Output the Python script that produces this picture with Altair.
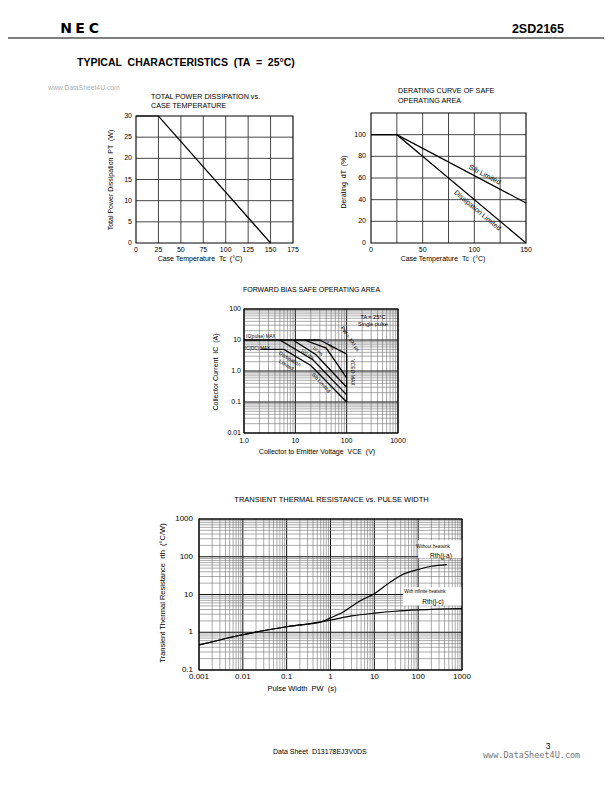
import altair as alt
import pandas as pd

FONT = "Liberation Sans"
W, H = 596, 776
M = 8  # page margin

# ---------------- data ----------------
# Total power dissipation vs. case temperature
PD_TC = [0, 25, 150]
PD_PT = [30, 30, 0]
PD_X_TICKS = [0, 25, 50, 75, 100, 125, 150, 175]
PD_Y_TICKS = [0, 5, 10, 15, 20, 25, 30]

# Derating curve of safe operating area
DR_TC = [0, 25, 150]
DR_SB_LIMITED = [100, 100, 37]
DR_DISS_LIMITED = [100, 100, 0]
DR_X_TICKS = [0, 50, 100, 150]
DR_X_GRID = [25, 50, 75, 100, 125]
DR_Y_TICKS = [0, 20, 40, 60, 80, 100]

# Forward bias safe operating area
SOA_PULSE_V = [1, 30]
SOA_PULSE_I = [10, 10]
SOA_300US_V = [30, 100]
SOA_300US_I = [10, 3.5]
SOA_1MS_V = [15, 40, 100]
SOA_1MS_I = [10, 5.5, 0.6]
SOA_10MS_V = [9, 25, 100]
SOA_10MS_I = [10, 3.4, 0.3]
SOA_100MS_V = [5, 22, 100]
SOA_100MS_I = [10, 2.3, 0.17]
SOA_DC_V = [2.1, 6, 20, 100]
SOA_DC_I = [5, 5, 1.5, 0.1]
SOA_VCEO_V = [100, 100]
SOA_VCEO_I = [3.5, 0.1]
SOA_X_TICKS = [1, 10, 100, 1000]
SOA_X_LABELS = ["1.0", "10", "100", "1000"]
SOA_Y_TICKS = [0.01, 0.1, 1, 10, 100]
SOA_Y_LABELS = ["0.01", "0.1", "1.0", "10", "100"]

# Transient thermal resistance vs. pulse width
TH_PW_JC = [0.001, 0.01, 0.1, 0.3, 1, 3, 10, 30, 100, 1000]
TH_R_JC = [0.46, 0.86, 1.4, 1.65, 2.1, 2.7, 3.2, 3.6, 3.9, 4.2]
TH_PW_JA = [0.001, 0.01, 0.1, 0.3, 0.6, 1, 2, 3, 5, 10, 20, 40, 100, 200, 450]
TH_R_JA = [0.46, 0.86, 1.4, 1.65, 1.85, 2.4, 3.5, 4.8, 7, 10.5, 19, 32, 46, 56, 62]
TH_X_TICKS = [0.001, 0.01, 0.1, 1, 10, 100, 1000]
TH_X_LABELS = ["0.001", "0.01", "0.1", "1", "10", "100", "1000"]
TH_Y_TICKS = [0.1, 1, 10, 100, 1000]
TH_Y_LABELS = ["0.1", "1", "10", "100", "1000"]

DUMMY = pd.DataFrame({"d": [0]})


def P(v):
    return v - M


def nb(s):
    return s.replace("  ", " \u00a0")


def lin_scale(dom, rng):
    return alt.Scale(type="linear", domain=dom, range=rng, nice=False, zero=False)


def log_scale(dom, rng):
    return alt.Scale(type="log", domain=dom, range=rng, nice=False)


def log_grid(lo, hi):
    vals, major = [], []
    for e in range(lo, hi):
        for k in range(1, 10):
            vals.append(round(k * 10.0 ** e, 6))
            major.append(k == 1)
    vals.append(round(10.0 ** hi, 6))
    major.append(True)
    return vals, major


def grid_layers(xsc, ysc, xdom, ydom, vvals, vmaj, hvals, hmaj, cmaj, cmin, wmaj, wmin):
    vdf = pd.DataFrame({"gx": vvals, "m": vmaj})
    vdf["gy0"] = ydom[0]
    vdf["gy1"] = ydom[1]
    vdf["c"] = [cmaj if m else cmin for m in vmaj]
    vdf["w"] = [wmaj if m else wmin for m in vmaj]
    hdf = pd.DataFrame({"gy": hvals, "m": hmaj})
    hdf["gx0"] = xdom[0]
    hdf["gx1"] = xdom[1]
    hdf["c"] = [cmaj if m else cmin for m in hmaj]
    hdf["w"] = [wmaj if m else wmin for m in hmaj]
    v = alt.Chart(vdf).mark_rule().encode(
        x=alt.X("gx:Q", scale=xsc, axis=None),
        y=alt.Y("gy0:Q", scale=ysc, axis=None), y2="gy1:Q",
        color=alt.Color("c:N", scale=None), strokeWidth=alt.StrokeWidth("w:Q", scale=None))
    h = alt.Chart(hdf).mark_rule().encode(
        y=alt.Y("gy:Q", scale=ysc, axis=None),
        x=alt.X("gx0:Q", scale=xsc, axis=None), x2="gx1:Q",
        color=alt.Color("c:N", scale=None), strokeWidth=alt.StrokeWidth("w:Q", scale=None))
    return [v, h]


def frame_layer(xsc, ysc, xdom, ydom):
    df = pd.DataFrame({"x0": [xdom[0]], "x1": [xdom[1]], "y0": [ydom[0]], "y1": [ydom[1]]})
    return alt.Chart(df).mark_rect(filled=False, stroke="black", strokeWidth=1.1).encode(
        x=alt.X("x0:Q", scale=xsc, axis=None), x2="x1:Q",
        y=alt.Y("y0:Q", scale=ysc, axis=None), y2="y1:Q")


def tick_labels(xsc, ysc, xdom, ydom, xt, xl, yt, yl, size, xpad, ypad):
    xdf = pd.DataFrame({"v": xt, "t": xl})
    xdf["b"] = ydom[0]
    ydf = pd.DataFrame({"v": yt, "t": yl})
    ydf["b"] = xdom[0]
    xl_ = alt.Chart(xdf).mark_text(font=FONT, fontSize=size, baseline="top", align="center",
                                   dy=xpad, color="black").encode(
        x=alt.X("v:Q", scale=xsc, axis=None), y=alt.Y("b:Q", scale=ysc, axis=None), text="t:N")
    yl_ = alt.Chart(ydf).mark_text(font=FONT, fontSize=size, baseline="middle", align="right",
                                   dx=-ypad, color="black").encode(
        y=alt.Y("v:Q", scale=ysc, axis=None), x=alt.X("b:Q", scale=xsc, axis=None), text="t:N")
    return [xl_, yl_]


def series_df(pairs):
    rows = []
    for name, xs, ys in pairs:
        for i, (a, b) in enumerate(zip(xs, ys)):
            rows.append({"s": name, "i": i, "x": a, "y": b})
    return pd.DataFrame(rows)


def line_layer(df, xsc, ysc, interp="linear", w=1.2):
    return alt.Chart(df).mark_line(color="black", strokeWidth=w, interpolate=interp).encode(
        x=alt.X("x:Q", scale=xsc, axis=None), y=alt.Y("y:Q", scale=ysc, axis=None),
        detail="s:N", order="i:Q")


def text_layer(df, xsc, ysc, align="center"):
    return alt.Chart(df).mark_text(font=FONT, align=align, baseline="middle", color="black",
                                   lineBreak="\n").encode(
        x=alt.X("x:Q", scale=xsc, axis=None), y=alt.Y("y:Q", scale=ysc, axis=None),
        text="t:N", angle=alt.Angle("a:Q", scale=None), size=alt.Size("s:Q", scale=None))


def txt(s, px, py, size, weight="normal", align="left", color="black", font=FONT, angle=0):
    return alt.Chart(DUMMY).mark_text(text=nb(s), font=font, fontSize=size, fontWeight=weight,
                                      align=align, baseline="middle", color=color, angle=angle).encode(
        x=alt.value(P(px)), y=alt.value(P(py)))


# ---------------- panel 1 ----------------
x1d, y1d = [0, 175], [0, 30]
xs1 = lin_scale(x1d, [P(136), P(293)])
ys1 = lin_scale(y1d, [P(243), P(116)])
p1 = grid_layers(xs1, ys1, x1d, y1d, PD_X_TICKS[1:-1], [True] * 6, PD_Y_TICKS[1:-1], [True] * 5,
                 "#333333", "#333333", 0.9, 0.9)
p1 += [frame_layer(xs1, ys1, x1d, y1d),
       line_layer(series_df([("pt", PD_TC, PD_PT)]), xs1, ys1)]
p1 += tick_labels(xs1, ys1, x1d, y1d, PD_X_TICKS, [str(v) for v in PD_X_TICKS],
                  PD_Y_TICKS, [str(v) for v in PD_Y_TICKS], 7, 3, 4)
panel1 = alt.layer(*p1)

# ---------------- panel 2 ----------------
x2d, y2d = [0, 150], [0, 120]
xs2 = lin_scale(x2d, [P(371), P(526)])
ys2 = lin_scale(y2d, [P(243), P(113)])
p2 = grid_layers(xs2, ys2, x2d, y2d, DR_X_GRID, [True] * 5, DR_Y_TICKS[1:], [True] * 5,
                 "#333333", "#333333", 0.9, 0.9)
dr_lab = pd.DataFrame({"x": [110, 103], "y": [63, 30], "t": ["S/b Limited", "Dissipation Limited"],
                       "a": [28, 40], "s": [7, 7]})
p2 += [frame_layer(xs2, ys2, x2d, y2d),
       line_layer(series_df([("sb", DR_TC, DR_SB_LIMITED), ("diss", DR_TC, DR_DISS_LIMITED)]), xs2, ys2),
       text_layer(dr_lab, xs2, ys2)]
p2 += tick_labels(xs2, ys2, x2d, y2d, DR_X_TICKS, [str(v) for v in DR_X_TICKS],
                  DR_Y_TICKS, [str(v) for v in DR_Y_TICKS], 7, 3, 5)
panel2 = alt.layer(*p2)

# ---------------- panel 3 (SOA) ----------------
x3d, y3d = [1, 1000], [0.01, 100]
xs3 = log_scale(x3d, [P(244), P(398)])
ys3 = log_scale(y3d, [P(433), P(309)])
gv3, gmv3 = log_grid(0, 3)
gh3, gmh3 = log_grid(-2, 2)
p3 = grid_layers(xs3, ys3, x3d, y3d, gv3, gmv3, gh3, gmh3, "#111111", "#666666", 1.0, 0.55)
soa = series_df([("pulse", SOA_PULSE_V, SOA_PULSE_I), ("300us", SOA_300US_V, SOA_300US_I),
                 ("1ms", SOA_1MS_V, SOA_1MS_I), ("10ms", SOA_10MS_V, SOA_10MS_I),
                 ("100ms", SOA_100MS_V, SOA_100MS_I), ("dc", SOA_DC_V, SOA_DC_I),
                 ("vceo", SOA_VCEO_V, SOA_VCEO_I)])
soa_lab_c = pd.DataFrame({
    "x": [325, 325, 7.9, 32, 135, 118, 47, 27, 17],
    "y": [56, 32, 2.5, 0.43, 0.9, 11, 6.5, 4.3, 3.5],
    "t": ["TA = 25°C", "Single pulse", "Dissipation\nLimited", "S/b Limited", "VCEO MAX",
          "PW = 300 μs", "1 ms", "10 ms", "100 ms"],
    "a": [0, 0, 31, 48, 90, 55, 45, 40, 35],
    "s": [5.5, 5.5, 5, 5, 5, 5, 4.5, 4.5, 4.5]})
soa_lab_l = pd.DataFrame({"x": [1.1, 1.05], "y": [12.5, 5.2], "t": ["IC(pulse) MAX", "IC(DC) MAX"],
                          "a": [0, 0], "s": [4.5, 4.5]})
p3 += [frame_layer(xs3, ys3, x3d, y3d), line_layer(soa, xs3, ys3, w=1.3),
       text_layer(soa_lab_c, xs3, ys3), text_layer(soa_lab_l, xs3, ys3, align="left")]
p3 += tick_labels(xs3, ys3, x3d, y3d, SOA_X_TICKS, SOA_X_LABELS, SOA_Y_TICKS, SOA_Y_LABELS, 7, 4, 3)
panel3 = alt.layer(*p3)

# ---------------- panel 4 (thermal) ----------------
x4d, y4d = [0.001, 1000], [0.1, 1000]
xs4 = log_scale(x4d, [P(199), P(462)])
ys4 = log_scale(y4d, [P(670), P(519)])
gv4, gmv4 = log_grid(-3, 3)
gh4, gmh4 = log_grid(-1, 3)
p4 = grid_layers(xs4, ys4, x4d, y4d, gv4, gmv4, gh4, gmh4, "#111111", "#666666", 1.0, 0.55)
boxes = pd.DataFrame({"x0": [100, 45], "x1": [1000, 1000], "y0": [91, 5.1], "y1": [275, 15.5]})
box_layer = alt.Chart(boxes).mark_rect(color="white").encode(
    x=alt.X("x0:Q", scale=xs4, axis=None), x2="x1:Q",
    y=alt.Y("y0:Q", scale=ys4, axis=None), y2="y1:Q")
th = series_df([("jc", TH_PW_JC, TH_R_JC), ("ja", TH_PW_JA, TH_R_JA)])
th_lab = pd.DataFrame({"x": [218, 331, 143, 218], "y": [179, 103, 12, 6.5],
                       "t": ["Without heatsink", "Rth(j-a)", "With infinite heatsink", "Rth(j-c)"],
                       "a": [0, 0, 0, 0], "s": [4.5, 6.5, 4.5, 6.5]})
p4 += [box_layer, frame_layer(xs4, ys4, x4d, y4d),
       line_layer(th, xs4, ys4, interp="monotone", w=1.2), text_layer(th_lab, xs4, ys4)]
p4 += tick_labels(xs4, ys4, x4d, y4d, TH_X_TICKS, TH_X_LABELS, TH_Y_TICKS, TH_Y_LABELS, 8, 3, 6)
panel4 = alt.layer(*p4)

# ---------------- page decoration & axis titles ----------------
page = [
    txt("N", 66, 29, 14, "bold", "center", font="DejaVu Sans"),
    txt("E", 80, 29, 14, "bold", "center", font="DejaVu Sans"),
    txt("C", 94, 29, 14, "bold", "center", font="DejaVu Sans"),
    txt("2SD2165", 564, 29, 12.5, "bold", "right"),
    alt.Chart(DUMMY).mark_rule(color="black", strokeWidth=1.2).encode(
        x=alt.value(0), x2=alt.value(W), y=alt.value(P(38))),
    txt("TYPICAL  CHARACTERISTICS  (TA  =  25°C)", 77, 63, 10.5, "bold"),
    txt("www.DataSheet4U.com", 48, 88, 6.8, color="#b0b0b0"),
    txt("TOTAL POWER DISSIPATION vs.", 151, 96.5, 7.2),
    txt("CASE TEMPERATURE", 151, 106, 7.2),
    txt("DERATING CURVE OF SAFE", 398, 91, 7.2),
    txt("OPERATING AREA", 398, 101, 7.2),
    txt("FORWARD BIAS SAFE OPERATING AREA", 311.5, 290, 7, align="center"),
    txt("TRANSIENT THERMAL RESISTANCE vs. PULSE WIDTH", 331.5, 500, 7.5, align="center"),
    # axis titles
    txt("Case Temperature  Tc  (°C)", 200, 259, 7, align="center"),
    txt("Total Power Dissipation  PT  (W)", 111, 180, 7, align="center", angle=270),
    txt("Case Temperature  Tc  (°C)", 443, 259, 7, align="center"),
    txt("Derating  dT  (%)", 344, 182, 7, align="center", angle=270),
    txt("Collector to Emitter Voltage  VCE  (V)", 317, 452, 7, align="center"),
    txt("Collector Current  IC  (A)", 216, 372, 7, align="center", angle=270),
    txt("Pulse Width  PW  (s)", 302, 689, 7.5, align="center"),
    txt("Transient Thermal Resistance  rth  (°C/W)", 163, 593, 7.5, align="center", angle=270),
    # footer
    txt("Data Sheet  D13178EJ3V0DS", 273, 752, 7),
    txt("3", 548, 746, 8.5, align="center"),
    txt("www.DataSheet4U.com", 483, 755, 8.5, color="#777777", font="DejaVu Sans Mono"),
]

chart = alt.layer(panel1, panel2, panel3, panel4, *page).resolve_scale(
    x="independent", y="independent"
).properties(
    width=W, height=H, padding=0, autosize=alt.AutoSizeParams(type="none"), background="white"
).configure_view(stroke=None)

chart.save("out.html", embed_options={"renderer": "svg", "actions": False})
